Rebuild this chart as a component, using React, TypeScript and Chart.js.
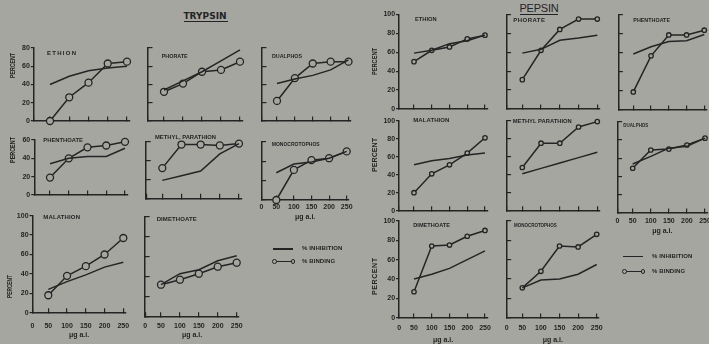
import React, { useEffect, useRef } from 'react';
import { Chart, registerables } from 'chart.js';
Chart.register(...registerables);

const BG = '#a6a6a1';
const INK = '#242424';
const FONT = '"Liberation Sans", "DejaVu Sans", sans-serif';

// ---------- data ----------
const doses = [50, 100, 150, 200, 250];
const xTickLabels = ['0', '50', '100', '150', '200', '250'];
const legendLabels = ['% INHIBITION', '% BINDING'];
const xTitle = 'μg a.i.';
const yTitle = 'PERCENT';

// Trypsin
const tEthionInhibition = [40, 49, 55, 58, 60];
const tEthionBinding = [0, 26, 42, 63, 65];
const tPhorateInhibition = [34, 44, 54, 66, 78];
const tPhorateBinding = [32, 41, 54, 56, 65];
const tDualphosInhibition = [41, 46, 50, 56, 67];
const tDualphosBinding = [22, 47, 63, 65, 65];
const tPhenthoateInhibition = [34, 40, 42, 42, 51];
const tPhenthoateBinding = [19, 40, 52, 54, 58];
const tMethylParathionInhibition = [19, 24, 29, 47, 58];
const tMethylParathionBinding = [32, 57, 57, 56, 58];
const tMonocrotophosInhibition = [28, 37, 39, 43, 50];
const tMonocrotophosBinding = [0, 31, 41, 43, 50];
const tMalathionInhibition = [24, 32, 39, 47, 52];
const tMalathionBinding = [18, 38, 48, 60, 77];
const tDimethoateInhibition = [32, 43, 47, 56, 61];
const tDimethoateBinding = [32, 37, 43, 50, 54];

// Pepsin
const pEthionInhibition = [59, 62, 69, 72, 78];
const pEthionBinding = [50, 62, 65.5, 74, 78];
const pPhorateInhibition = [59, 63, 72.5, 75, 78];
const pPhorateBinding = [31, 62, 84, 95, 95];
const pPhenthoateInhibition = [59, 66.5, 72, 73, 79.5];
const pPhenthoateBinding = [19, 57, 79, 79, 84];
const pMalathionInhibition = [51, 55.5, 58, 62, 64];
const pMalathionBinding = [20, 41, 51, 64, 81];
const pMethylParathionInhibition = [41, 47, 53, 59, 65];
const pMethylParathionBinding = [48, 75, 75, 93, 99];
const pDualphosInhibition = [53.6, 62, 71, 73, 82];
const pDualphosBinding = [49, 69, 70, 74.5, 82];
const pDimethoateInhibition = [40, 45, 51, 60, 69];
const pDimethoateBinding = [27, 74, 75, 84, 90];
const pMonocrotophosInhibition = [31, 39, 40, 45, 55];
const pMonocrotophosBinding = [31, 48, 74, 73, 86];

// ---------- layout ----------
const X_MIN = 8;
const X_MAX = 256;

type PanelDef = {
  name: string;
  inhibition: number[];
  binding: number[];
  yMax: number;
  yLabels: boolean;
  xLabels: boolean;
  x50: number; x250: number; y0: number; yTop: number;
  nameX: number; nameY: number; nameW: number;
  percent?: { x: number; y1: number; y2: number };
  labelOff?: number; titleOff?: number;
  r: number;
};

const panels: PanelDef[] = [
  { name: 'ETHION', inhibition: tEthionInhibition, binding: tEthionBinding, yMax: 80, yLabels: true, xLabels: false, x50: 50, x250: 127, y0: 121, yTop: 48, nameX: 47, nameY: 53, nameW: 29, percent: { x: 13, y1: 53, y2: 78 }, r: 3.5 },
  { name: 'PHORATE', inhibition: tPhorateInhibition, binding: tPhorateBinding, yMax: 80, yLabels: false, xLabels: false, x50: 164, x250: 240, y0: 121, yTop: 48, nameX: 161.7, nameY: 56.7, nameW: 26, r: 3.5 },
  { name: 'DUALPHOS', inhibition: tDualphosInhibition, binding: tDualphosBinding, yMax: 80, yLabels: false, xLabels: false, x50: 277, x250: 348.5, y0: 121, yTop: 48, nameX: 272, nameY: 56, nameW: 30, r: 3.5 },
  { name: 'PHENTHOATE', inhibition: tPhenthoateInhibition, binding: tPhenthoateBinding, yMax: 60, yLabels: true, xLabels: false, x50: 50, x250: 125, y0: 195, yTop: 140, nameX: 43.3, nameY: 140, nameW: 39.7, percent: { x: 13, y1: 137, y2: 163 }, r: 3.5 },
  { name: 'METHYL, PARATHION', inhibition: tMethylParathionInhibition, binding: tMethylParathionBinding, yMax: 60, yLabels: false, xLabels: false, x50: 162.3, x250: 239, y0: 198.3, yTop: 141.7, nameX: 155, nameY: 137.3, nameW: 61, r: 3.5 },
  { name: 'MONOCROTOPHOS', inhibition: tMonocrotophosInhibition, binding: tMonocrotophosBinding, yMax: 60, yLabels: false, xLabels: true, x50: 276.3, x250: 346.7, y0: 200, yTop: 141.7, nameX: 271.7, nameY: 144, nameW: 48, labelOff: 7.3, titleOff: 16.7, r: 3.5 },
  { name: 'MALATHION', inhibition: tMalathionInhibition, binding: tMalathionBinding, yMax: 100, yLabels: true, xLabels: true, x50: 48.3, x250: 123.3, y0: 312.7, yTop: 215.7, nameX: 43.3, nameY: 217, nameW: 36.7, percent: { x: 10, y1: 275, y2: 298 }, labelOff: 13.3, titleOff: 22.3, r: 3.5 },
  { name: 'DIMETHOATE', inhibition: tDimethoateInhibition, binding: tDimethoateBinding, yMax: 100, yLabels: false, xLabels: true, x50: 161, x250: 236.7, y0: 316.7, yTop: 216.7, nameX: 156.7, nameY: 219, nameW: 40, labelOff: 9.3, titleOff: 18.3, r: 3.5 },

  { name: 'ETHION', inhibition: pEthionInhibition, binding: pEthionBinding, yMax: 100, yLabels: true, xLabels: false, x50: 414, x250: 485, y0: 109, yTop: 14.3, nameX: 415, nameY: 19, nameW: 21.7, percent: { x: 375, y1: 48, y2: 75 }, r: 2.2 },
  { name: 'PHORATE', inhibition: pPhorateInhibition, binding: pPhorateBinding, yMax: 100, yLabels: false, xLabels: false, x50: 522.3, x250: 597.3, y0: 109, yTop: 14.3, nameX: 513.3, nameY: 20.7, nameW: 31.7, r: 2.2 },
  { name: 'PHENTHOATE', inhibition: pPhenthoateInhibition, binding: pPhenthoateBinding, yMax: 100, yLabels: false, xLabels: false, x50: 633.3, x250: 704.3, y0: 110, yTop: 15, nameX: 633.3, nameY: 20.7, nameW: 36.7, r: 2.2 },
  { name: 'MALATHION', inhibition: pMalathionInhibition, binding: pMalathionBinding, yMax: 100, yLabels: true, xLabels: false, x50: 414, x250: 485, y0: 210.7, yTop: 120.7, nameX: 413.3, nameY: 120.5, nameW: 36, percent: { x: 375, y1: 138, y2: 172 }, r: 2.2 },
  { name: 'METHYL PARATHION', inhibition: pMethylParathionInhibition, binding: pMethylParathionBinding, yMax: 100, yLabels: false, xLabels: false, x50: 522.3, x250: 597.3, y0: 210.7, yTop: 120.7, nameX: 512.7, nameY: 121.7, nameW: 59, r: 2.2 },
  { name: 'DUALPHOS', inhibition: pDualphosInhibition, binding: pDualphosBinding, yMax: 100, yLabels: false, xLabels: true, x50: 632.7, x250: 705, y0: 213, yTop: 121.7, nameX: 623.3, nameY: 125, nameW: 25, labelOff: 8, titleOff: 18, r: 2.2 },
  { name: 'DIMETHOATE', inhibition: pDimethoateInhibition, binding: pDimethoateBinding, yMax: 100, yLabels: true, xLabels: true, x50: 414, x250: 485, y0: 318, yTop: 220.7, nameX: 413.3, nameY: 225, nameW: 36.7, percent: { x: 375, y1: 258, y2: 295 }, labelOff: 10.3, titleOff: 22, r: 2.2 },
  { name: 'MONOCROTOPHOS', inhibition: pMonocrotophosInhibition, binding: pMonocrotophosBinding, yMax: 100, yLabels: false, xLabels: true, x50: 522.3, x250: 596.7, y0: 318, yTop: 220.7, nameX: 514, nameY: 225.7, nameW: 42.7, labelOff: 10.3, titleOff: 22, r: 2.2 },
];

function geometry(p: PanelDef) {
  const s = (p.x250 - p.x50) / 200;
  const areaLeft = p.x50 - (50 - X_MIN) * s;
  const areaRight = p.x250 + (X_MAX - 250) * s;
  const L = Math.floor(p.percent ? p.percent.x - 6 : areaLeft - 8);
  const T = Math.floor(Math.min(p.yTop, p.nameY) - 8);
  const xh = p.xLabels ? (p.titleOff as number) + 4.2 : 5;
  const R = Math.ceil(areaRight + 8);
  const B = Math.ceil(p.y0 + xh + 1);
  return {
    L, T, W: R - L, H: B - T,
    yw: areaLeft - L, xh,
    pad: { left: 0, top: p.yTop - T, right: R - areaRight, bottom: B - p.y0 - xh },
  };
}

function drawSpaced(ctx: CanvasRenderingContext2D, text: string, target: number) {
  const w = ctx.measureText(text).width;
  if (w < target && text.length > 1) {
    (ctx as any).letterSpacing = `${(target - w) / (text.length - 1)}px`;
    ctx.fillText(text, 0, 0);
    (ctx as any).letterSpacing = '0px';
  } else {
    ctx.scale(target / w, 1);
    ctx.fillText(text, 0, 0);
  }
}

const panelText = {
  id: 'panelText',
  afterDraw(chart: any, _a: any, o: any) {
    const ctx: CanvasRenderingContext2D = chart.ctx;
    ctx.save();
    ctx.fillStyle = INK;
    ctx.textBaseline = 'middle';
    ctx.textAlign = 'left';
    ctx.font = `bold 6px ${FONT}`;
    ctx.translate(o.nameX - o.ox, o.nameY - o.oy);
    drawSpaced(ctx, o.name, o.nameW);
    ctx.restore();
    if (o.percent) {
      ctx.save();
      ctx.fillStyle = INK;
      ctx.textBaseline = 'middle';
      ctx.textAlign = 'left';
      ctx.font = `bold 7px ${FONT}`;
      ctx.translate(o.percent.x - o.ox, o.percent.y2 - o.oy);
      ctx.rotate(-Math.PI / 2);
      drawSpaced(ctx, yTitle, o.percent.y2 - o.percent.y1);
      ctx.restore();
    }
  },
};

function Panel({ p }: { p: PanelDef }) {
  const ref = useRef<HTMLCanvasElement>(null);
  const g = geometry(p);
  useEffect(() => {
    const tickFont = { family: FONT, size: 7, weight: 'bold' as const };
    const chart = new Chart(ref.current as HTMLCanvasElement, {
      type: 'line',
      data: {
        datasets: [
          {
            label: legendLabels[0],
            data: doses.map((d, i) => ({ x: d, y: p.inhibition[i] })),
            borderColor: INK, borderWidth: 1.5, pointRadius: 0, tension: 0, clip: false as any,
          },
          {
            label: legendLabels[1],
            data: doses.map((d, i) => ({ x: d, y: p.binding[i] })),
            borderColor: INK, borderWidth: 1.5, tension: 0, clip: false as any,
            pointRadius: p.r, pointBorderWidth: 1.3, pointBackgroundColor: BG, pointBorderColor: INK,
          },
        ],
      },
      options: {
        animation: false,
        responsive: false,
        devicePixelRatio: 1,
        events: [],
        layout: { padding: g.pad },
        plugins: {
          legend: { display: false },
          tooltip: { enabled: false },
          panelText: { name: p.name, nameX: p.nameX, nameY: p.nameY, nameW: p.nameW, percent: p.percent, ox: g.L, oy: g.T },
        } as any,
        scales: {
          x: {
            type: 'linear', min: X_MIN, max: X_MAX,
            afterBuildTicks: (sc: any) => { sc.ticks = [X_MIN, ...doses].map((v) => ({ value: v })); },
            afterFit: (sc: any) => { sc.height = g.xh; sc.paddingLeft = 0; sc.paddingRight = 0; },
            ticks: {
              display: p.xLabels, autoSkip: false, maxRotation: 0, font: tickFont, color: INK,
              padding: (p.labelOff || 0) + 0.3,
              callback: (_v: any, i: number) => xTickLabels[i],
            },
            grid: { drawOnChartArea: false, drawTicks: true, tickLength: -4.5, color: INK, lineWidth: 1.2 },
            border: { display: true, color: INK, width: 1.5 },
            title: { display: p.xLabels, text: xTitle, font: tickFont, color: INK, padding: 0 },
          },
          y: {
            type: 'linear', min: 0, max: p.yMax,
            afterFit: (sc: any) => { sc.width = g.yw; sc.paddingTop = 0; sc.paddingBottom = 0; },
            ticks: { display: p.yLabels, stepSize: 20, font: tickFont, color: INK, padding: 1 },
            grid: { drawOnChartArea: false, drawTicks: true, tickLength: p.yLabels ? 3 : -4.5, color: INK, lineWidth: 1.2 },
            border: { display: true, color: INK, width: 1.5 },
          },
        },
      } as any,
      plugins: [panelText],
    });
    return () => chart.destroy();
  }, []);
  return (
    <canvas
      ref={ref}
      width={g.W}
      height={g.H}
      style={{ position: 'absolute', left: g.L, top: g.T, width: g.W, height: g.H }}
    />
  );
}

function Legend({ x1, x2, yInh, yBind, textX, w1, w2 }: { x1: number; x2: number; yInh: number; yBind: number; textX: number; w1: number; w2: number }) {
  const line = (y: number) => (
    <div style={{ position: 'absolute', left: x1, top: y - 0.7, width: x2 - x1, height: 1.4, background: INK }} />
  );
  const circle = (cx: number, cy: number) => (
    <div style={{ position: 'absolute', left: cx - 2.3, top: cy - 2.3, width: 4.6, height: 4.6, boxSizing: 'border-box', border: `1.1px solid ${INK}`, borderRadius: '50%', background: BG }} />
  );
  const text = (t: string, y: number, w: number) => (
    <div style={{ position: 'absolute', left: textX, top: y - 4, height: 8, lineHeight: '8px', font: `bold 6px ${FONT}`, color: INK, whiteSpace: 'nowrap', width: w, letterSpacing: '0.1px' }}>{t}</div>
  );
  return (
    <>
      {line(yInh)}
      {text(legendLabels[0], yInh, w1)}
      {line(yBind)}
      {circle(x1 + 1.5, yBind)}
      {circle(x2, yBind)}
      {text(legendLabels[1], yBind, w2)}
    </>
  );
}

export default function App() {
  return (
    <div style={{ position: 'fixed', left: 0, top: 0, width: 709, height: 344, background: BG, overflow: 'hidden' }}>
      <div style={{ position: 'absolute', left: 205, top: 16.3, transform: 'translate(-50%, -50%)', font: `bold 9px "DejaVu Sans", sans-serif`, lineHeight: '10px', color: INK, whiteSpace: 'nowrap' }}>TRYPSIN</div>
      <div style={{ position: 'absolute', left: 184, top: 21.2, width: 44, height: 1, background: INK }} />
      <div style={{ position: 'absolute', left: 539, top: 8, transform: 'translate(-50%, -50%)', font: `11px ${FONT}`, lineHeight: '12px', color: INK, whiteSpace: 'nowrap', letterSpacing: '-0.2px' }}>PEPSIN</div>
      <div style={{ position: 'absolute', left: 520, top: 13.8, width: 38, height: 1.4, background: INK }} />
      {panels.map((p, i) => <Panel key={i} p={p} />)}
      <Legend x1={273} x2={293} yInh={249} yBind={261.7} textX={302} w1={40} w2={33} />
      <Legend x1={623} x2={643} yInh={256.7} yBind={271.7} textX={652} w1={41} w2={38} />
    </div>
  );
}
